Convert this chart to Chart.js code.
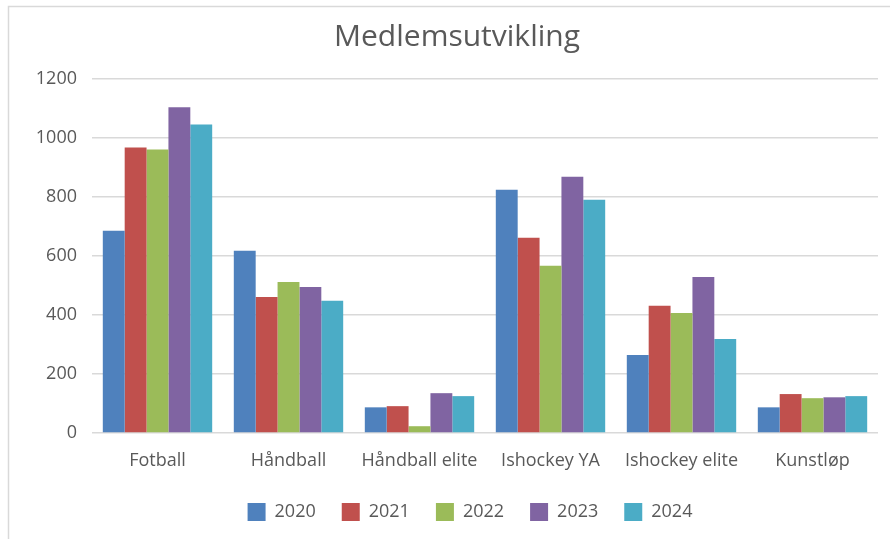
<!DOCTYPE html>
<html>
<head>
<meta charset="utf-8">
<script src="https://cdn.jsdelivr.net/npm/chart.js@4/dist/chart.umd.min.js"></script>
<style>
  html, body { margin: 0; padding: 0; background: #ffffff; }
  #wrap { width: 890px; height: 539px; position: relative; }
</style>
</head>
<body>
<div id="wrap"><canvas id="c" width="890" height="539"></canvas></div>
<script>
const categories = ["Fotball", "Håndball", "Håndball elite", "Ishockey YA", "Ishockey elite", "Kunstløp"];
const years = ["2020", "2021", "2022", "2023", "2024"];
const values2020 = [686, 618, 87, 825, 264, 87];
const values2021 = [968, 461, 91, 662, 431, 132];
const values2022 = [961, 512, 23, 567, 407, 118];
const values2023 = [1104, 495, 135, 869, 529, 121];
const values2024 = [1046, 448, 125, 791, 319, 125];
const colors = ["#4F81BD", "#C0504D", "#9BBB59", "#8064A2", "#4BACC6"];
const yTicks = [0, 200, 400, 600, 800, 1000, 1200];

const seriesValues = [values2020, values2021, values2022, values2023, values2024];
const TEXT = "#595959";
const FONT = "'Open Sans', 'Liberation Sans', sans-serif";

const framePlugin = {
  id: "frame",
  beforeDraw(chart) {
    const ctx = chart.ctx;
    ctx.save();
    ctx.fillStyle = "#ffffff";
    ctx.fillRect(0, 0, chart.width, chart.height);
    ctx.strokeStyle = "#d9d9d9";
    ctx.lineWidth = 1.5;
    ctx.strokeRect(8.5, 6.5, 1000, 1000);
    ctx.restore();
  },
  afterLayout(chart) {
    const lg = chart.legend;
    if (lg) {
      lg.left += 13; lg.right += 13;
      lg.top -= 8; lg.bottom -= 8;
    }
  }
};

new Chart(document.getElementById("c"), {
  type: "bar",
  data: {
    labels: categories,
    datasets: years.map((y, i) => ({
      label: y,
      data: seriesValues[i],
      backgroundColor: colors[i],
      borderWidth: 0,
      categoryPercentage: 0.835,
      barPercentage: 1.0
    }))
  },
  options: {
    responsive: false,
    animation: false,
    devicePixelRatio: 1,
    layout: { padding: { left: 36, right: 12, top: 19, bottom: 0 } },
    plugins: {
      title: {
        display: true,
        text: "Medlemsutvikling",
        color: TEXT,
        font: { family: FONT, size: 30, weight: "normal" },
        padding: { top: 0, bottom: 24 }
      },
      legend: {
        position: "bottom",
        labels: {
          color: TEXT,
          font: { family: FONT, size: 18 },
          boxWidth: 18,
          boxHeight: 18,
          padding: 26
        }
      },
      tooltip: { enabled: false }
    },
    scales: {
      x: {
        grid: { display: false, drawTicks: false },
        border: { display: false },
        ticks: { color: TEXT, font: { family: FONT, size: 18 }, padding: 17, maxRotation: 0, autoSkip: false },
        afterFit(scale) { scale.height = 52; }
      },
      y: {
        min: 0,
        max: 1200,
        afterBuildTicks(scale) { scale.ticks = yTicks.map(v => ({ value: v })); },
        grid: { color: "#d9d9d9", lineWidth: 1.5, drawTicks: false },
        border: { display: false },
        ticks: { color: TEXT, font: { family: FONT, size: 18 }, padding: 15, callback: (v) => String(v) },
        afterFit(scale) { scale.width = 56; }
      }
    }
  },
  plugins: [framePlugin]
});
</script>
</body>
</html>
